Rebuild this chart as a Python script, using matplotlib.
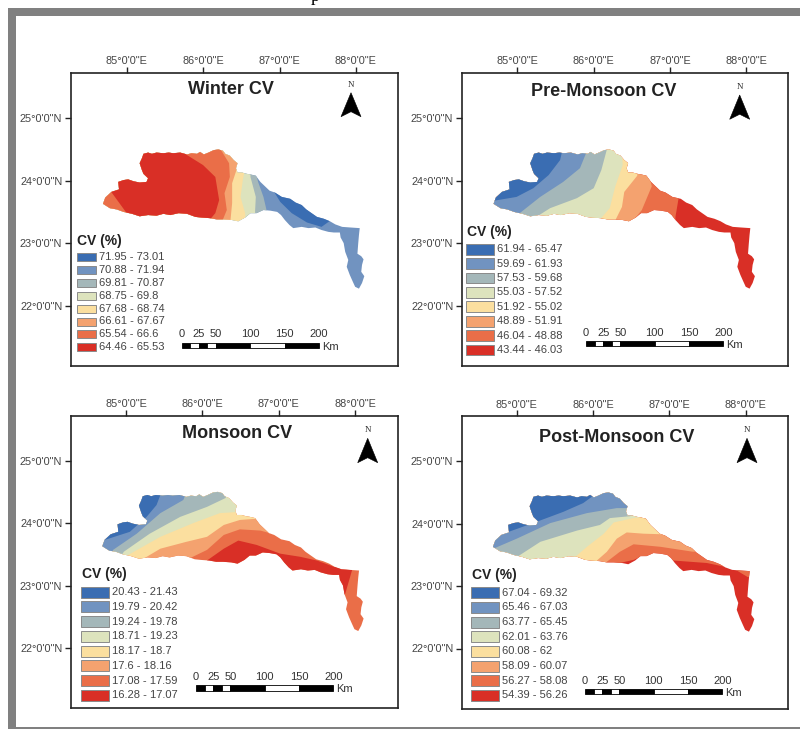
#!/usr/bin/env python

# Seasonal CV maps of the basin, four panels

import matplotlib
matplotlib.use('Agg')
from matplotlib import pyplot as plt
from matplotlib.patches import Polygon, Rectangle
from matplotlib.transforms import Affine2D

plt.rcParams['font.family'] = ['Liberation Sans', 'DejaVu Sans']

W, H = 800, 729

class_colors = ['#3a6db2', '#7193c0', '#a4b7b9', '#dde3bd',
                '#fbdf9f', '#f4a26f', '#ea6e48', '#d92f26']

lon_ticks = [85, 86, 87, 88]
lat_ticks = [22, 23, 24, 25]
scale_km = [0, 25, 50, 100, 150, 200]
scale_segments = [(0, 12.5, 'k'), (12.5, 25, 'w'), (25, 37.5, 'k'), (37.5, 50, 'w'),
                  (50, 100, 'k'), (100, 150, 'w'), (150, 200, 'k')]

# basin outline, lon/lat
basin_north = [
    (84.69, 23.63), (84.72, 23.73), (84.80, 23.82), (84.90, 23.86), (84.89, 23.98),
    (84.96, 24.01), (85.02, 24.02), (85.09, 23.99), (85.17, 23.97), (85.26, 23.98),
    (85.28, 24.04), (85.22, 24.11), (85.20, 24.17), (85.17, 24.28), (85.20, 24.36),
    (85.22, 24.43), (85.28, 24.45), (85.33, 24.43), (85.39, 24.45), (85.48, 24.44),
    (85.55, 24.45), (85.61, 24.44), (85.70, 24.45), (85.79, 24.42), (85.85, 24.44),
    (85.92, 24.43), (85.96, 24.46), (86.01, 24.42), (86.07, 24.45), (86.14, 24.49),
    (86.20, 24.50), (86.26, 24.48), (86.29, 24.43), (86.35, 24.40), (86.40, 24.33),
    (86.45, 24.28), (86.43, 24.20), (86.45, 24.13), (86.51, 24.13), (86.57, 24.11),
    (86.62, 24.10), (86.69, 24.08), (86.75, 23.98), (86.81, 23.91), (86.87, 23.84),
    (86.94, 23.81), (87.03, 23.74), (87.14, 23.71), (87.21, 23.65), (87.29, 23.61),
    (87.35, 23.54), (87.42, 23.48), (87.49, 23.42), (87.58, 23.39), (87.66, 23.35),
    (87.73, 23.30), (87.82, 23.26), (87.93, 23.25), (88.05, 23.24),
]
basin_tail = [
    (88.04, 23.13), (88.03, 22.99), (88.02, 22.83), (88.07, 22.79), (88.10, 22.74),
    (88.08, 22.65), (88.07, 22.54), (88.11, 22.47), (88.08, 22.36), (88.04, 22.27),
    (87.99, 22.30), (87.96, 22.38), (87.92, 22.49), (87.88, 22.62), (87.90, 22.73),
    (87.86, 22.86), (87.84, 23.00), (87.80, 23.09), (87.79, 23.17),
]
basin_south = [
    (87.71, 23.17), (87.64, 23.18), (87.55, 23.21), (87.47, 23.25), (87.38, 23.24),
    (87.29, 23.26), (87.18, 23.24), (87.13, 23.29), (87.07, 23.37), (87.02, 23.45),
    (86.97, 23.50), (86.88, 23.52), (86.79, 23.53), (86.70, 23.48), (86.62, 23.48),
    (86.55, 23.41), (86.46, 23.35), (86.38, 23.37), (86.27, 23.38), (86.18, 23.38),
    (86.09, 23.40), (85.98, 23.41), (85.90, 23.42), (85.79, 23.47), (85.68, 23.48),
    (85.57, 23.45), (85.48, 23.47), (85.39, 23.44), (85.28, 23.45), (85.17, 23.43),
    (85.07, 23.47), (84.96, 23.50), (84.87, 23.54), (84.78, 23.56),
]

# zones: (class index, 'west' = all west of the line / 'patch' = closed shape, points)
winter_zones = [
    (0, 'patch', [(86.90, 23.88), (87.27, 23.74), (87.49, 23.58), (87.71, 23.40), (87.55, 23.26),
                  (87.36, 23.33), (87.16, 23.48), (87.01, 23.66)]),
    (2, 'west', [(86.86, 23.37), (86.83, 23.53), (86.79, 23.74), (86.72, 23.98), (86.68, 24.17)]),
    (3, 'west', [(86.70, 23.32), (86.68, 23.50), (86.69, 23.74), (86.62, 24.06), (86.62, 24.22)]),
    (4, 'west', [(86.56, 23.26), (86.55, 23.48), (86.49, 23.74), (86.52, 24.01), (86.55, 24.22)]),
    (5, 'west', [(86.35, 23.26), (86.38, 23.64), (86.38, 23.96), (86.45, 24.22), (86.48, 24.39)]),
    (6, 'west', [(86.22, 23.26), (86.31, 23.53), (86.28, 23.80), (86.35, 24.06), (86.34, 24.28), (86.22, 24.52)]),
    (7, 'patch', [(84.78, 23.85), (85.00, 23.48), (85.17, 23.34), (86.05, 23.32), (86.16, 23.48), (86.21, 23.69),
                  (86.16, 24.06), (86.00, 24.25), (85.79, 24.41), (85.66, 24.55), (85.09, 24.55), (84.78, 24.22)]),
]
premonsoon_zones = [
    (6, 'west', [(87.07, 23.26), (87.07, 23.42), (87.11, 23.71), (87.09, 23.85)]),
    (5, 'west', [(86.45, 23.26), (86.63, 23.53), (86.76, 23.91), (86.72, 24.12)]),
    (4, 'west', [(86.24, 23.26), (86.37, 23.58), (86.40, 23.82), (86.57, 24.08), (86.57, 24.22)]),
    (3, 'west', [(86.00, 23.26), (86.21, 23.56), (86.28, 23.90), (86.38, 24.25), (86.37, 24.44)]),
    (2, 'west', [(85.12, 23.32), (85.43, 23.56), (85.78, 23.72), (86.00, 23.88), (86.10, 24.17), (86.17, 24.49), (86.17, 24.60)]),
    (1, 'west', [(84.97, 23.42), (85.30, 23.74), (85.60, 23.98), (85.82, 24.20), (85.90, 24.44), (85.90, 24.60)]),
    (0, 'west', [(84.60, 23.66), (84.99, 23.74), (85.21, 23.88), (85.41, 24.09), (85.56, 24.33), (85.59, 24.49), (85.59, 24.60)]),
]
monsoon_zones = [
    (7, 'patch', [(86.06, 23.40), (86.28, 23.59), (86.47, 23.72), (86.71, 23.65), (87.02, 23.51), (87.28, 23.46),
                  (87.50, 23.40), (87.72, 23.30), (87.96, 23.25), (87.87, 22.87), (87.76, 22.71), (86.84, 22.71), (86.01, 23.03)]),
    (5, 'west', [(85.75, 23.14), (85.79, 23.41), (86.06, 23.57), (86.28, 23.81), (86.49, 23.90), (86.76, 23.88), (86.91, 23.83), (86.97, 24.00)]),
    (4, 'west', [(85.18, 23.14), (85.23, 23.43), (85.45, 23.59), (85.79, 23.70), (86.06, 23.78), (86.28, 23.97), (86.49, 24.05), (86.71, 24.07), (86.78, 24.26)]),
    (3, 'west', [(84.99, 23.25), (85.03, 23.49), (85.45, 23.78), (85.88, 24.00), (86.23, 24.16), (86.49, 24.18), (86.60, 24.32)]),
    (2, 'west', [(84.88, 23.35), (84.97, 23.54), (85.31, 23.83), (85.71, 24.10), (86.06, 24.26), (86.30, 24.40), (86.41, 24.58)]),
    (1, 'west', [(84.79, 23.41), (84.83, 23.57), (85.14, 23.83), (85.45, 24.16), (85.75, 24.37), (85.82, 24.58)]),
    (0, 'west', [(84.60, 23.68), (84.72, 23.73), (85.05, 23.86), (85.27, 24.10), (85.40, 24.29), (85.49, 24.58)]),
]
postmonsoon_zones = [
    (6, 'west', [(86.14, 23.15), (86.31, 23.36), (86.53, 23.42), (86.62, 23.47), (86.88, 23.51), (87.05, 23.41),
                 (87.49, 23.37), (87.84, 23.28), (88.03, 23.14), (88.10, 23.23), (88.10, 23.47)]),
    (5, 'west', [(86.18, 23.15), (86.18, 23.39), (86.35, 23.55), (86.53, 23.67), (86.88, 23.63), (87.31, 23.55), (87.58, 23.58)]),
    (4, 'west', [(86.05, 23.15), (86.05, 23.41), (86.18, 23.55), (86.31, 23.76), (86.44, 23.86), (86.66, 23.84), (86.92, 23.83), (87.01, 23.95)]),
    (3, 'west', [(85.66, 23.15), (85.74, 23.44), (85.92, 23.63), (86.14, 23.84), (86.27, 24.02), (86.53, 24.09), (86.66, 24.11)]),
    (2, 'west', [(85.00, 23.15), (85.02, 23.48), (85.31, 23.71), (85.79, 23.89), (86.09, 23.98), (86.22, 24.09), (86.48, 24.12), (86.62, 24.17)]),
    (1, 'west', [(84.60, 23.55), (85.00, 23.76), (85.44, 24.01), (85.92, 24.17), (86.31, 24.25), (86.51, 24.25), (86.62, 24.33)]),
    (0, 'west', [(84.60, 23.80), (84.85, 23.85), (85.26, 24.03), (85.61, 24.19), (85.87, 24.33), (86.05, 24.49), (86.05, 24.60)]),
]

winter_labels = ['71.95 - 73.01', '70.88 - 71.94', '69.81 - 70.87', '68.75 - 69.8',
                 '67.68 - 68.74', '66.61 - 67.67', '65.54 - 66.6', '64.46 - 65.53']
premonsoon_labels = ['61.94 - 65.47', '59.69 - 61.93', '57.53 - 59.68', '55.03 - 57.52',
                     '51.92 - 55.02', '48.89 - 51.91', '46.04 - 48.88', '43.44 - 46.03']
monsoon_labels = ['20.43 - 21.43', '19.79 - 20.42', '19.24 - 19.78', '18.71 - 19.23',
                  '18.17 - 18.7', '17.6 - 18.16', '17.08 - 17.59', '16.28 - 17.07']
postmonsoon_labels = ['67.04 - 69.32', '65.46 - 67.03', '63.77 - 65.45', '62.01 - 63.76',
                      '60.08 - 62', '58.09 - 60.07', '56.27 - 58.08', '54.39 - 56.26']

# pixel coordinates with the origin top left, the reference was measured that way
px = Affine2D().scale(1, -1).translate(0, H)

PX_PER_LON = 76.4
PX_PER_LAT = 62.4
PX_PER_KM = 0.687


def draw_map(ax, base_class, zones):
    basin = Polygon(basin_north + basin_tail + basin_south, closed=True,
                    facecolor=class_colors[base_class], edgecolor='none', zorder=1)
    ax.add_patch(basin)
    for class_idx, kind, points in zones:
        if kind == 'west':
            # close the line round the west side of the map
            points = [(84.0, 21.0), (points[0][0], 21.0)] + points + [(points[-1][0], 27.0), (84.0, 27.0)]
        zone = Polygon(points, closed=True, facecolor=class_colors[class_idx], edgecolor='none', zorder=2)
        ax.add_patch(zone)
        zone.set_clip_path(basin)


def draw_legend(fig, title_x, title_y, patch_x, patch_w, patch_h, first_y, step, labels):
    fig.text(title_x, title_y, 'CV (%)', transform=px, fontsize=10, fontweight='bold',
             color='#222222', va='center', ha='left')
    for i, label in enumerate(labels):
        y = first_y + i * step
        fig.add_artist(Rectangle((patch_x, y - patch_h / 2), patch_w, patch_h, transform=px,
                                 facecolor=class_colors[i], edgecolor='#8a8a8a', linewidth=0.7))
        fig.text(patch_x + patch_w + 3, y, label, transform=px, fontsize=8, color='#444444',
                 va='center', ha='left')


def draw_scale(fig, x0, y_top, y_bottom, label_y):
    for start, stop, color in scale_segments:
        fig.add_artist(Rectangle((x0 + start * PX_PER_KM, y_top), (stop - start) * PX_PER_KM, y_bottom - y_top,
                                 transform=px, facecolor=color, edgecolor='k', linewidth=0.6))
    for km in scale_km:
        fig.text(x0 + km * PX_PER_KM, label_y, str(km), transform=px, fontsize=8, color='#333333',
                 ha='center', va='center')
    fig.text(x0 + 200 * PX_PER_KM + 3, y_top + 4, 'Km', transform=px, fontsize=8, color='#333333',
             ha='left', va='center')


def draw_north(fig, x, n_y, tip_y, base_y):
    fig.text(x, n_y, 'N', transform=px, fontsize=6.5, family='Liberation Serif', color='#333333',
             ha='center', va='center')
    shape = [(x, tip_y), (x + 10, base_y), (x, base_y - 5), (x - 10, base_y)]
    fig.add_artist(Polygon(shape, closed=True, transform=px, facecolor='k', edgecolor='k', linewidth=0.4))


def make_panel(fig, box, lon85_x, lat25_y, base_class, zones):
    left, right, top, bottom = box
    ax = fig.add_axes([left / W, 1 - bottom / H, (right - left) / W, (bottom - top) / H])
    ax.set_xlim(85 + (left - lon85_x) / PX_PER_LON, 85 + (right - lon85_x) / PX_PER_LON)
    ax.set_ylim(25 - (bottom - lat25_y) / PX_PER_LAT, 25 - (top - lat25_y) / PX_PER_LAT)
    ax.xaxis.tick_top()
    ax.set_xticks(lon_ticks)
    ax.set_yticks(lat_ticks)
    ax.set_xticklabels(["%d°0'0\"E" % v for v in lon_ticks])
    ax.set_yticklabels(["%d°0'0\"N" % v for v in lat_ticks])
    ax.tick_params(length=4, width=1, labelsize=7.8, labelcolor='#444444', color='#222222')
    ax.tick_params(axis='x', pad=0.5)
    ax.tick_params(axis='y', pad=2)
    for spine in ax.spines.values():
        spine.set_linewidth(1.2)
        spine.set_color('#222222')
    draw_map(ax, base_class, zones)
    return ax


def main():
    fig = plt.figure(figsize=(W / 100, H / 100), dpi=100, facecolor='white')

    # grey page frame, only partly inside the crop
    fig.add_artist(Rectangle((8, 8), 8, 721, transform=px, facecolor='#808080', edgecolor='none'))
    fig.add_artist(Rectangle((8, 8), 792, 8, transform=px, facecolor='#808080', edgecolor='none'))
    fig.add_artist(Rectangle((8, 727), 792, 2, transform=px, facecolor='#808080', edgecolor='none'))
    fig.text(315, 1, 'p', transform=px, fontsize=13, family='Liberation Serif', color='k', ha='center', va='baseline')

    make_panel(fig, (70.7, 397.7, 72.7, 365.7), 126.7, 118.3, 1, winter_zones)
    make_panel(fig, (461.7, 787.7, 72.7, 365.7), 517.3, 118.3, 7, premonsoon_zones)
    make_panel(fig, (70.7, 397.7, 415.7, 708.3), 126.0, 460.7, 6, monsoon_zones)
    make_panel(fig, (461.7, 787.7, 416.0, 709.3), 516.7, 461.3, 7, postmonsoon_zones)

    fig.text(230.7, 89, 'Winter CV', transform=px, fontsize=13, fontweight='bold', color='#222222', ha='center', va='center')
    fig.text(603.5, 91.5, 'Pre-Monsoon CV', transform=px, fontsize=13, fontweight='bold', color='#222222', ha='center', va='center')
    fig.text(237.3, 434, 'Monsoon CV', transform=px, fontsize=13, fontweight='bold', color='#222222', ha='center', va='center')
    fig.text(616.7, 438, 'Post-Monsoon CV', transform=px, fontsize=13, fontweight='bold', color='#222222', ha='center', va='center')

    draw_legend(fig, 77.3, 241, 76.7, 19.3, 8, 257, 12.9, winter_labels)
    draw_legend(fig, 467.3, 232, 466.3, 27.4, 10.7, 249.3, 14.38, premonsoon_labels)
    draw_legend(fig, 82, 574, 81, 27.7, 11, 592, 14.76, monsoon_labels)
    draw_legend(fig, 472, 574.7, 471.3, 27.4, 11, 592.7, 14.67, postmonsoon_labels)

    draw_scale(fig, 181.7, 342.5, 347.5, 334)
    draw_scale(fig, 586, 341, 346, 333.5)
    draw_scale(fig, 196, 685, 690.5, 677)
    draw_scale(fig, 585, 688.5, 693.5, 680.5)

    draw_north(fig, 351, 85, 92.7, 116.7)
    draw_north(fig, 739.7, 87.3, 95, 119.3)
    draw_north(fig, 367.7, 430, 438.3, 462.7)
    draw_north(fig, 747, 430.3, 438.3, 462.7)

    fig.savefig('out.png', dpi=100)


if __name__ == '__main__':
    main()
